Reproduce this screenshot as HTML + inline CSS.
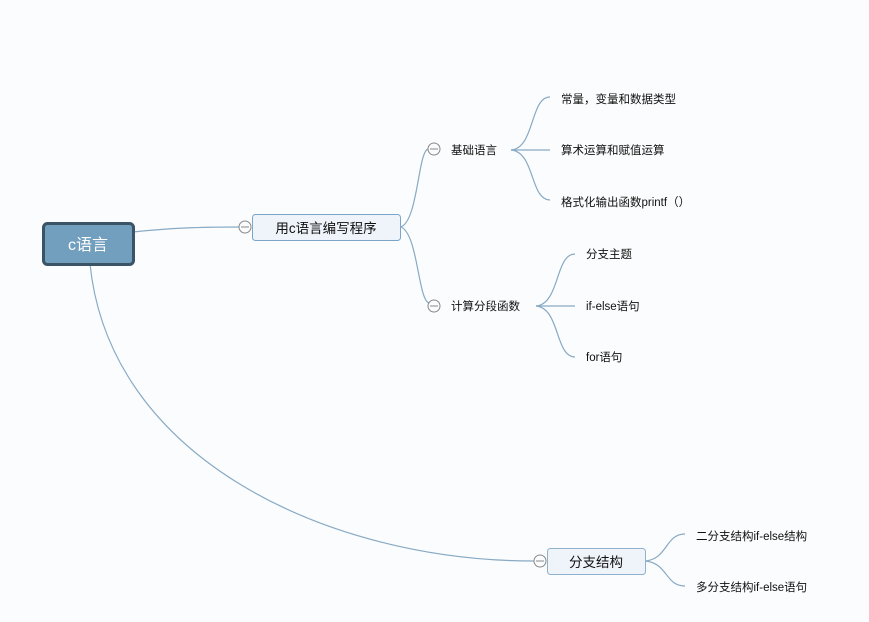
<!DOCTYPE html>
<html><head><meta charset="utf-8"><style>
html,body{margin:0;padding:0;background:#fbfcfd;}
svg{display:block;}
text{font-family:"Liberation Sans","Noto Sans CJK SC",sans-serif;fill:#111;}
</style></head><body>
<svg width="869" height="622" viewBox="0 0 869 622" xmlns="http://www.w3.org/2000/svg">
<g fill="none" stroke="#88aac4" stroke-width="1.2">
<path d="M133 232 C170 228 200 227 239 227"/>
<path d="M90 264 C110 460 330 561 534 561"/>
<path d="M401 227 C418 220 418 152 428 149"/>
<path d="M401 227 C418 234 418 300 429 303"/>
<path d="M511 150 C535 148 530 97 550 97"/>
<path d="M511 150 L550 150"/>
<path d="M511 150 C535 152 530 200 550 200"/>
<path d="M536 306 C560 304 555 254 575 254"/>
<path d="M536 306 L575 306"/>
<path d="M536 306 C560 308 555 357 575 357"/>
<path d="M645 561 C668 559 665 534 685 534"/>
<path d="M645 561 C668 563 665 586 685 586"/>
</g>
<rect x="43.5" y="223.5" width="90" height="41" rx="4" fill="#739fbf" stroke="#3b5366" stroke-width="3"/>
<text x="88" y="250" font-size="16" text-anchor="middle" style="fill:#fff">c语言</text>
<rect x="252.5" y="214.5" width="148" height="26" rx="3" fill="#eef4f9" stroke="#7aa5c8" stroke-width="1"/>
<text x="326" y="233" font-size="13.5" text-anchor="middle">用c语言编写程序</text>
<rect x="547.5" y="548.5" width="98" height="26" rx="3" fill="#eef4f9" stroke="#8fb1cc" stroke-width="1"/>
<text x="596" y="567" font-size="13.5" text-anchor="middle">分支结构</text>
<g fill="#fbfcfd" stroke="#888" stroke-width="1">
<circle cx="245" cy="227" r="6"/><circle cx="434" cy="149" r="6"/>
<circle cx="434" cy="306" r="6"/><circle cx="540" cy="561" r="6"/>
</g>
<g stroke="#888" stroke-width="1">
<line x1="241" y1="227" x2="249" y2="227"/><line x1="430" y1="149" x2="438" y2="149"/>
<line x1="430" y1="306" x2="438" y2="306"/><line x1="536" y1="561" x2="544" y2="561"/>
</g>
<g font-size="11.5">
<text x="451" y="154">基础语言</text>
<text x="451" y="310">计算分段函数</text>
<text x="561" y="103">常量，变量和数据类型</text>
<text x="561" y="154">算术运算和赋值运算</text>
<text x="561" y="206">格式化输出函数printf（）</text>
<text x="586" y="258">分支主题</text>
<text x="586" y="310">if-else语句</text>
<text x="586" y="361">for语句</text>
<text x="696" y="540">二分支结构if-else结构</text>
<text x="696" y="591">多分支结构if-else语句</text>
</g>
</svg>
</body></html>
